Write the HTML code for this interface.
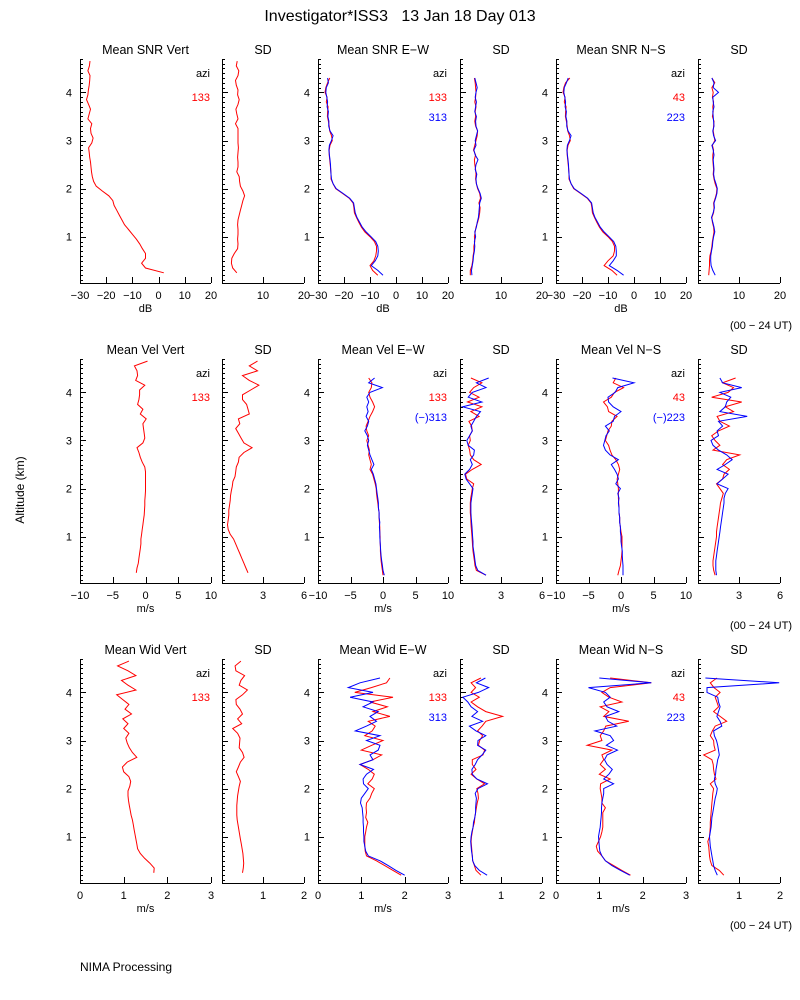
<!DOCTYPE html>
<html><head><meta charset="utf-8">
<style>
html,body{margin:0;padding:0;background:#fff;}
svg{display:block;font-family:"Liberation Sans",sans-serif;}
</style></head>
<body>
<svg id="chart" width="800" height="1000" viewBox="0 0 800 1000">
<rect width="800" height="1000" fill="#fff"/>
<text x="400" y="21" font-size="16" text-anchor="middle" style="white-space:pre">Investigator*ISS3   13 Jan 18 Day 013</text>
<text transform="translate(24,490) rotate(-90)" font-size="12" text-anchor="middle">Altitude (km)</text>
<text x="80" y="971" font-size="12">NIMA Processing</text>
<g id="panels"></g>
</svg>
<script>
const altV=[0.25,0.35,0.45,0.55,0.65,0.75,0.85,0.95,1.05,1.15,1.25,1.35,1.45,1.55,1.65,1.75,1.85,1.95,2.05,2.15,2.25,2.35,2.45,2.55,2.65,2.75,2.85,2.95,3.05,3.15,3.25,3.35,3.45,3.55,3.65,3.75,3.85,3.95,4.05,4.15,4.25,4.35,4.45,4.55,4.65];
const altO=[0.2,0.3,0.4,0.5,0.6,0.7,0.8,0.9,1.0,1.1,1.2,1.3,1.4,1.5,1.6,1.7,1.8,1.9,2.0,2.1,2.2,2.3,2.4,2.5,2.6,2.7,2.8,2.9,3.0,3.1,3.2,3.3,3.4,3.5,3.6,3.7,3.8,3.9,4.0,4.1,4.2,4.3];

const snrVert=[2,-5,-6.5,-5,-5,-6.2,-7.2,-8.5,-10,-11.5,-13,-14,-15,-16,-17,-17.5,-19,-21.5,-23.8,-24.8,-25.3,-25.6,-25.8,-26,-26.3,-26.5,-26.7,-25.5,-25,-25.8,-26,-25.5,-27,-26.5,-26,-26.7,-27.5,-27,-26.8,-26.5,-26.3,-26.2,-27,-26.4,-26.2];
const snrVertSD=[3.6,2.6,2.3,2.4,3,3.8,3.9,3.8,3.9,3.9,3.8,3.9,4.2,4.5,4.8,5.1,5.5,5.1,4.5,4.3,4.2,3.6,3.9,3.9,3.8,3.9,4,3.9,3.9,3.9,3.9,3.3,3.9,3.6,3.4,3.9,4.2,3.8,3.9,3.5,3.3,3.9,4.1,3.5,3.7];
const snrEWred=[-7,-9,-10,-8.5,-7.8,-7.5,-7.5,-8.3,-10,-12,-13.3,-14.3,-15.2,-16,-16.2,-16.5,-18,-20.6,-23.2,-24.2,-25,-25,-25.1,-25.3,-25.5,-25.7,-25.7,-25.4,-24.5,-24.8,-25.5,-25.7,-26,-26.4,-26.3,-26.1,-26.8,-26.5,-27.3,-27,-26.3,-25.5];
const snrEWblue=[-5,-7,-9.5,-8,-7,-6.8,-7,-7.8,-9.6,-11.5,-13,-14,-15,-15.7,-16,-16.3,-17.8,-20.4,-23,-24.2,-24.8,-25,-25.1,-25.2,-25.4,-25.6,-25.8,-25.6,-24.8,-24.2,-25.4,-25.9,-25.8,-26.2,-26,-26.5,-26.3,-26.6,-27,-26.8,-26,-26.3];
const snrEWredSD=[2.5,2.5,2.9,3.1,3.2,3.4,3.4,3.6,3.5,3.7,3.9,4.3,4.6,4.8,4.9,4.6,5.0,4.8,4.3,4.0,3.8,3.9,3.8,3.6,3.5,3.8,3.3,3.6,3.9,4.2,4.3,3.8,3.6,3.8,3.7,3.9,3.6,3.8,3.9,3.8,3.7,3.5];
const snrEWblueSD=[2.9,2.8,3.0,3.2,3.3,3.5,3.6,3.5,3.8,3.6,4.0,4.2,4.5,4.6,4.7,4.8,5.2,4.9,4.4,4.0,3.9,4.1,3.7,3.9,4.4,3.7,3.4,3.9,3.7,4.0,4.3,3.9,3.8,4.0,3.6,3.8,4.0,3.7,3.9,4.2,3.9,3.6];
const snrNSred=[-6.5,-8.5,-11.5,-10,-8,-7.5,-7.5,-8.3,-10,-12,-13.3,-14.3,-15.2,-16,-16.2,-16.5,-18,-20.6,-23.2,-24.2,-25,-25,-25.1,-25.3,-25.5,-25.7,-25.7,-25.4,-24.5,-24.8,-25.5,-25.7,-26,-26.4,-26.3,-26.1,-26.8,-26.5,-27.3,-27,-26.3,-24.7];
const snrNSblue=[-4,-6.5,-9.5,-8,-6.8,-6.8,-7,-7.8,-9.6,-11.5,-13,-14,-15,-15.7,-16,-16.3,-17.8,-20.4,-23,-24.2,-24.8,-25,-25.1,-25.2,-25.4,-25.6,-25.8,-25.6,-24.8,-24.2,-25.4,-25.9,-25.8,-26.2,-26,-26.5,-26.3,-26.6,-27,-26.8,-26,-25.3];
const snrNSredSD=[2.6,2.7,2.8,2.8,2.9,3.2,3.4,3.5,3.7,3.9,3.8,3.5,3.4,3.8,3.9,3.8,4.2,4.5,4.6,4.2,3.9,3.7,3.8,3.7,3.6,3.6,3.8,3.5,4.1,3.9,3.7,3.8,3.9,3.5,3.7,3.6,3.8,3.5,3.7,3.4,4.1,3.4];
const snrNSblueSD=[4.2,3.6,3.2,3.1,3.1,3.3,3.5,3.6,3.8,4.1,3.9,3.6,3.3,3.7,4.0,3.9,4.3,4.6,4.7,4.4,4.0,3.8,3.9,3.8,3.7,3.9,3.7,3.4,4.3,3.8,3.6,3.9,3.8,3.7,3.6,3.9,3.7,3.6,5.0,3.7,3.9,3.4];

const velVert=[-1.4,-1.3,-1.1,-1.0,-0.9,-0.8,-0.7,-0.7,-0.6,-0.5,-0.4,-0.3,-0.2,-0.15,-0.1,-0.1,-0.05,0,0,0,0,0,-0.1,-0.5,-0.8,-1.0,-1.3,-0.4,-0.1,-0.2,-0.3,-0.4,0.1,-0.8,-0.4,-1.2,-1.0,-0.9,-0.9,-0.1,-1.5,-1.2,-1.3,-1.7,0.3];
const velVertSD=[1.9,1.75,1.6,1.45,1.3,1.15,1.0,0.85,0.6,0.45,0.4,0.45,0.5,0.5,0.55,0.6,0.62,0.68,0.75,0.8,0.95,1.0,1.05,1.2,1.25,1.6,2.2,1.6,1.4,1.2,1.0,1.3,1.2,2.0,1.9,1.8,1.5,1.5,2.1,2.7,2.0,1.5,2.6,2.0,2.6];
const velEWred=[0,-0.1,-0.2,-0.3,-0.35,-0.4,-0.4,-0.45,-0.45,-0.5,-0.5,-0.55,-0.6,-0.6,-0.7,-0.8,-0.9,-1.0,-1.05,-1.2,-1.4,-1.6,-2.0,-1.8,-2.0,-2.2,-2.1,-2.3,-2.5,-2.2,-2.5,-2.6,-2.3,-2.0,-1.6,-1.3,-1.6,-2.0,-2.2,-1.8,-1.7,-2.2];
const velEWblue=[0.2,0,-0.1,-0.2,-0.3,-0.35,-0.4,-0.45,-0.5,-0.5,-0.55,-0.5,-0.6,-0.6,-0.7,-0.7,-0.8,-0.9,-1.0,-1.1,-1.3,-1.5,-1.8,-1.4,-1.7,-2.0,-2.2,-2.4,-2.2,-2.4,-2.8,-2.4,-2.2,-2.6,-2.3,-2.5,-2.2,-2.5,-2.0,-0.1,-2.2,-1.3];
const velEWredSD=[1.9,1.2,1.1,1.05,1.0,0.95,0.92,0.9,0.88,0.85,0.82,0.8,0.78,0.75,0.75,0.75,0.78,0.85,0.9,1.0,0.5,0.4,0.9,1.55,1.0,0.75,0.7,0.6,0.75,0.7,0.9,0.85,0.65,1.4,0.8,1.6,0.55,1.4,0.7,1.0,1.6,0.8];
const velEWblueSD=[1.9,1.3,1.15,1.1,1.05,1.0,0.95,0.95,0.92,0.9,0.88,0.85,0.82,0.8,0.8,0.8,0.85,0.9,0.95,0.7,0.45,0.35,0.7,0.9,0.75,1.0,1.05,0.6,0.5,0.7,0.9,0.8,1.0,1.2,1.5,0.2,1.6,0.6,0.9,1.9,1.2,2.1];
const velNSred=[-0.5,-0.3,-0.1,0,0.1,0.15,0.15,0.15,0.15,0,-0.1,-0.2,-0.2,-0.3,-0.3,-0.35,-0.4,-0.4,-0.4,-0.5,-0.6,-0.4,-0.2,-0.4,-0.8,-1.4,-1.7,-1.9,-2.4,-2.2,-2.0,-1.5,-1.4,-0.6,-1.9,-2.1,-2.7,-1.5,-1.0,0.4,-1.2,-0.8];
const velNSblue=[0.3,0.3,0.3,0.25,0.2,0.2,0.1,0,0,-0.1,-0.1,-0.2,-0.2,-0.3,-0.3,-0.4,-0.3,-0.5,-0.1,-0.8,-0.4,-0.6,-1.0,-1.5,-0.4,-1.7,-2.4,-2.7,-2.5,-2.3,-1.8,-2.4,-1.2,-1.0,0,-1.2,-1.9,-2.0,-0.9,-0.5,2.0,-1.3];
const velNSredSD=[1.25,1.15,1.1,1.1,1.15,1.2,1.25,1.3,1.35,1.35,1.4,1.45,1.5,1.55,1.6,1.65,1.75,1.85,1.6,1.35,1.8,1.9,2.3,1.8,2.1,3.05,1.1,1.6,1.25,1.0,1.5,2.3,1.6,1.4,2.6,2.0,3.2,1.0,2.2,2.6,1.8,2.75];
const velNSblueSD=[1.35,1.3,1.3,1.3,1.35,1.4,1.45,1.5,1.55,1.6,1.65,1.7,1.75,1.8,1.85,1.9,1.9,2.0,2.2,1.4,1.8,2.2,1.4,2.0,2.5,2.1,1.5,1.1,0.95,1.5,1.4,1.8,1.5,3.6,1.6,2.0,2.1,2.4,1.6,3.2,1.8,1.6];

const widVert=[1.69,1.7,1.6,1.48,1.38,1.32,1.3,1.28,1.26,1.24,1.22,1.2,1.17,1.15,1.13,1.11,1.1,1.1,1.14,1.16,1.12,1.0,0.97,1.08,1.3,1.2,1.13,1.08,1.05,1.12,1.0,1.1,0.98,1.18,1.03,1.12,0.98,0.84,1.28,1.1,0.95,1.28,1.1,0.86,1.12];
const widVertSD=[0.5,0.52,0.53,0.52,0.51,0.49,0.47,0.45,0.43,0.41,0.39,0.37,0.36,0.36,0.36,0.37,0.38,0.4,0.42,0.45,0.4,0.35,0.4,0.45,0.54,0.5,0.42,0.43,0.44,0.38,0.26,0.48,0.38,0.5,0.44,0.35,0.34,0.5,0.62,0.42,0.46,0.55,0.34,0.32,0.46];
const widEWred=[1.92,1.73,1.54,1.35,1.12,1.09,1.08,1.08,1.08,1.1,1.12,1.15,1.1,1.12,1.11,1.12,1.2,1.24,1.3,1.15,1.25,1.3,1.16,0.97,1.27,1.47,1.0,1.24,1.5,1.08,1.25,1.32,1.16,1.66,1.27,1.6,1.2,1.73,0.85,1.23,1.58,1.66];
const widEWblue=[2.0,1.8,1.62,1.43,1.16,1.1,1.08,1.06,1.06,1.05,1.05,1.04,1.04,1.03,1.02,0.98,1.0,1.08,1.16,1.05,1.04,1.12,1.28,0.97,1.27,1.2,1.39,1.43,1.12,1.43,0.86,1.12,1.35,1.2,1.39,1.04,1.27,0.74,1.27,0.7,0.97,1.43];
const widEWredSD=[0.51,0.39,0.35,0.31,0.3,0.29,0.28,0.27,0.28,0.3,0.32,0.35,0.36,0.38,0.4,0.42,0.45,0.44,0.41,0.6,0.41,0.27,0.39,0.3,0.3,0.56,0.6,0.45,0.48,0.55,0.43,0.54,0.63,1.04,0.63,0.43,0.27,0.47,0.27,0.38,0.27,0.51];
const widEWblueSD=[0.66,0.47,0.36,0.31,0.3,0.28,0.27,0.26,0.27,0.29,0.32,0.33,0.36,0.38,0.38,0.39,0.4,0.37,0.44,0.67,0.41,0.3,0.29,0.37,0.43,0.54,0.63,0.43,0.44,0.63,0.39,0.23,0.55,0.29,0.43,0.27,0.19,0.07,0.45,0.7,0.4,0.62];
const widNSred=[1.72,1.52,1.33,1.14,1.06,0.96,0.93,0.98,1.03,1.06,1.08,1.08,1.08,1.08,1.14,1.06,1.06,1.04,1.02,1.03,1.25,1.0,1.14,1.02,1.1,1.06,1.29,0.72,1.06,1.02,1.1,1.15,1.68,1.1,1.22,1.02,1.52,1.22,1.06,1.25,2.2,1.25];
const widNSblue=[1.7,1.49,1.29,1.14,1.06,1.01,1.0,0.99,0.98,1.0,1.02,1.03,1.04,1.05,1.05,1.06,1.08,1.1,1.1,1.33,1.1,1.22,1.3,1.18,1.12,1.18,1.42,1.16,1.33,1.25,0.9,1.4,1.2,1.14,1.45,1.18,1.1,1.25,1.14,0.75,2.2,1.0];
const widNSredSD=[0.63,0.52,0.34,0.3,0.28,0.27,0.26,0.24,0.28,0.29,0.3,0.3,0.31,0.32,0.33,0.34,0.35,0.36,0.38,0.3,0.44,0.4,0.38,0.37,0.34,0.14,0.42,0.39,0.38,0.3,0.35,0.42,0.7,0.54,0.38,0.5,0.46,0.42,0.54,0.39,0.3,0.46];
const widNSblueSD=[0.47,0.42,0.38,0.36,0.34,0.32,0.3,0.29,0.28,0.3,0.32,0.33,0.34,0.36,0.38,0.4,0.42,0.45,0.47,0.42,0.4,0.43,0.44,0.46,0.48,0.52,0.5,0.48,0.45,0.4,0.38,0.58,0.54,0.46,0.5,0.54,0.5,0.48,0.22,0.22,1.98,0.18];

const altTicks=[1,2,3,4];
const xTicksSNR=[-30,-20,-10,0,10,20];
const xTicksSNRSD=[10,20];
const xTicksVel=[-10,-5,0,5,10];
const xTicksVelSD=[3,6];
const xTicksWid=[0,1,2,3];
const xTicksWidSD=[1,2];

const RED='#ff0000', BLUE='#0000ff';
const colX=[80,222,318,460,556,698];
const colW=[131,82,130,82,130,82];

const panels=[
 {r:0,c:0,t:'Mean SNR Vert',min:-30,max:20,ticks:xTicksSNR,unit:'dB',azi:[['133',RED]],s:[[altV,snrVert,RED]]},
 {r:0,c:1,t:'SD',min:0,max:20,ticks:xTicksSNRSD,s:[[altV,snrVertSD,RED]]},
 {r:0,c:2,t:'Mean SNR E\u2212W',min:-30,max:20,ticks:xTicksSNR,unit:'dB',azi:[['133',RED],['313',BLUE]],s:[[altO,snrEWred,RED],[altO,snrEWblue,BLUE]]},
 {r:0,c:3,t:'SD',min:0,max:20,ticks:xTicksSNRSD,s:[[altO,snrEWredSD,RED],[altO,snrEWblueSD,BLUE]]},
 {r:0,c:4,t:'Mean SNR N\u2212S',min:-30,max:20,ticks:xTicksSNR,unit:'dB',azi:[['43',RED],['223',BLUE]],s:[[altO,snrNSred,RED],[altO,snrNSblue,BLUE]]},
 {r:0,c:5,t:'SD',min:0,max:20,ticks:xTicksSNRSD,s:[[altO,snrNSredSD,RED],[altO,snrNSblueSD,BLUE]]},
 {r:1,c:0,t:'Mean Vel Vert',min:-10,max:10,ticks:xTicksVel,unit:'m/s',azi:[['133',RED]],s:[[altV,velVert,RED]]},
 {r:1,c:1,t:'SD',min:0,max:6,ticks:xTicksVelSD,s:[[altV,velVertSD,RED]]},
 {r:1,c:2,t:'Mean Vel E\u2212W',min:-10,max:10,ticks:xTicksVel,unit:'m/s',azi:[['133',RED],['(\u2212)313',BLUE]],s:[[altO,velEWred,RED],[altO,velEWblue,BLUE]]},
 {r:1,c:3,t:'SD',min:0,max:6,ticks:xTicksVelSD,s:[[altO,velEWredSD,RED],[altO,velEWblueSD,BLUE]]},
 {r:1,c:4,t:'Mean Vel N\u2212S',min:-10,max:10,ticks:xTicksVel,unit:'m/s',azi:[['43',RED],['(\u2212)223',BLUE]],s:[[altO,velNSred,RED],[altO,velNSblue,BLUE]]},
 {r:1,c:5,t:'SD',min:0,max:6,ticks:xTicksVelSD,s:[[altO,velNSredSD,RED],[altO,velNSblueSD,BLUE]]},
 {r:2,c:0,t:'Mean Wid Vert',min:0,max:3,ticks:xTicksWid,unit:'m/s',azi:[['133',RED]],s:[[altV,widVert,RED]]},
 {r:2,c:1,t:'SD',min:0,max:2,ticks:xTicksWidSD,s:[[altV,widVertSD,RED]]},
 {r:2,c:2,t:'Mean Wid E\u2212W',min:0,max:3,ticks:xTicksWid,unit:'m/s',azi:[['133',RED],['313',BLUE]],s:[[altO,widEWred,RED],[altO,widEWblue,BLUE]]},
 {r:2,c:3,t:'SD',min:0,max:2,ticks:xTicksWidSD,s:[[altO,widEWredSD,RED],[altO,widEWblueSD,BLUE]]},
 {r:2,c:4,t:'Mean Wid N\u2212S',min:0,max:3,ticks:xTicksWid,unit:'m/s',azi:[['43',RED],['223',BLUE]],s:[[altO,widNSred,RED],[altO,widNSblue,BLUE]]},
 {r:2,c:5,t:'SD',min:0,max:2,ticks:xTicksWidSD,s:[[altO,widNSredSD,RED],[altO,widNSblueSD,BLUE]]}
];

const NS='http://www.w3.org/2000/svg';
const root=document.getElementById('panels');
function mk(tag,attrs,parent,text){
  const e=document.createElementNS(NS,tag);
  for(const k in attrs) e.setAttribute(k,attrs[k]);
  if(text!==undefined) e.textContent=text;
  parent.appendChild(e); return e;
}
function fmt(v){return String(v).replace('-','\u2212');}

panels.forEach(p=>{
  const x0=colX[p.c], w=colW[p.c], off=300*p.r;
  const bottom=283+off, top=59+off;
  const xs=v=>x0+(v-p.min)/(p.max-p.min)*w;
  const ys=h=>284.8+off-48.1*h;
  const g=mk('g',{},root);
  
  
  const tt=mk('text',{x:x0+w/2,y:54+off,'font-size':12.5,'text-anchor':'middle'},g,p.t);
  
  
  const ax=mk('path',{d:`M${x0+.5},${top}V${bottom+.5}H${x0+w}`,stroke:'#000',fill:'none','stroke-width':1},g);
  
  
  let d='';
  for(let i=1;i<=47;i++){const h=i/10, y=Math.round(ys(h))+.5; if(y<top) break; const L=(i%10===0)?6:3; d+=`M${x0},${y}h${L}`;}
  p.ticks.forEach(t=>{const x=Math.round(xs(t))+.5; d+=`M${x},${bottom}v-6`;});
  const tk=mk('path',{d:d,stroke:'#000','stroke-width':1,fill:'none'},g);
  
  
  if(p.c%2===0){
    altTicks.forEach(h=>{
      const l=mk('text',{x:x0-8,y:ys(h)+4,'font-size':11,'text-anchor':'end'},g,String(h));
      
      
    });
  }
  p.ticks.forEach(t=>{
    const l=mk('text',{x:xs(t),y:bottom+16,'font-size':11,'text-anchor':'middle'},g,fmt(t));
    
    
  });
  if(p.unit){
    const u=mk('text',{x:x0+w/2,y:bottom+29,'font-size':11,'text-anchor':'middle'},g,p.unit);
    
    
  }
  if(p.azi){
    const a=mk('text',{x:x0+w-1,y:77+off,'font-size':11,'text-anchor':'end'},g,'azi');
    
    
    p.azi.forEach((z,i)=>{
      const e=mk('text',{x:x0+w-1,y:101+i*20+off,'font-size':11,'text-anchor':'end',fill:z[1]},g,z[0]);
      
      
    });
  }
  p.s.forEach(s=>{
    const hs=s[0], vs=s[1], n=Math.min(hs.length,vs.length);
    let pts=[];
    for(let i=0;i<n;i++) pts.push(xs(vs[i]).toFixed(1)+','+ys(hs[i]).toFixed(1));
    const pl=mk('polyline',{points:pts.join(' '),fill:'none',stroke:s[2],'stroke-width':1},g);
    
    
  });
  if(p.c===5){
    const u=mk('text',{x:792,y:bottom+46,'font-size':11,'text-anchor':'end'},g,'(00 \u2212 24 UT)');
    
    
  }
});
</script>
</body></html>
